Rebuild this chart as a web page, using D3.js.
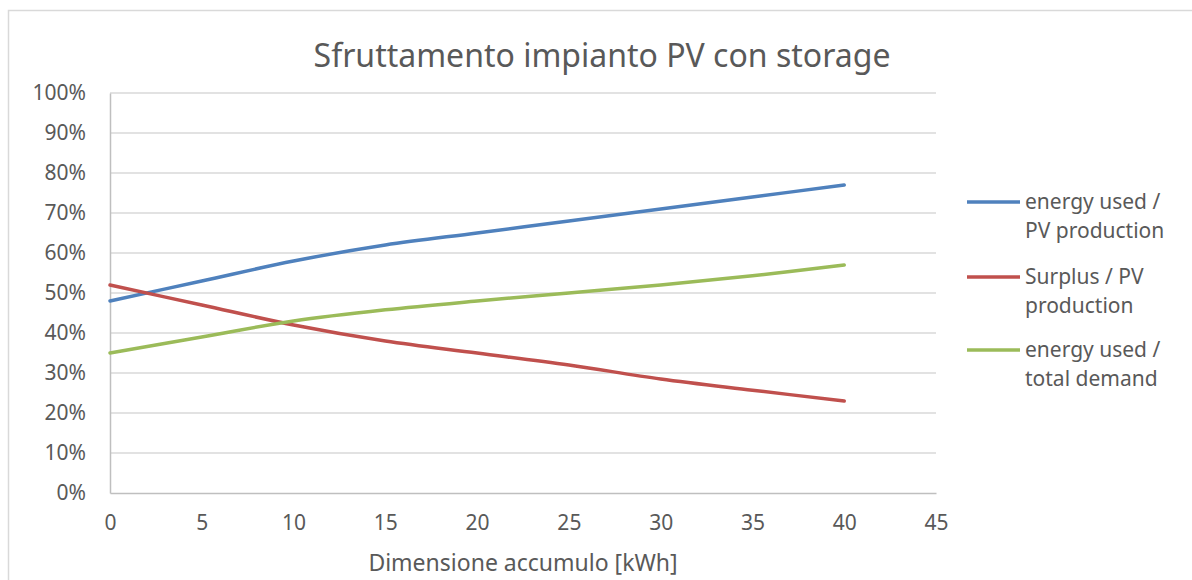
<!DOCTYPE html>
<html>
<head>
<meta charset="utf-8">
<script src="https://cdn.jsdelivr.net/npm/d3@7"></script>
<style>
  body { margin: 0; background: #fff; }
  text { font-family: "Noto Sans", "Open Sans", sans-serif; fill: #595959; }
</style>
</head>
<body>
<div id="chart"></div>
<script>
// storage size in kWh
const storageKwh = [0, 5, 10, 15, 20, 25, 30, 35, 40];
// shares in percent
const usedOverPv = [48, 53, 58, 62, 65, 68, 71, 74, 77];
const surplusOverPv = [52, 47, 42, 38, 35, 32, 28.5, 25.7, 23];
const usedOverDemand = [35, 39, 43, 45.8, 48, 50, 52, 54.3, 57];

const seriesNames = [
    ['energy used /', 'PV production'],
    ['Surplus / PV', 'production'],
    ['energy used /', 'total demand']
];
const seriesColors = ['#4F81BD', '#C0504D', '#9BBB59'];
const xTicks = [0, 5, 10, 15, 20, 25, 30, 35, 40, 45];
const yTicks = [0, 10, 20, 30, 40, 50, 60, 70, 80, 90, 100];

const width = 1192;
const height = 580;
const plot = { left: 110, right: 936, top: 93, bottom: 493 };

const svg = d3.select('#chart')
    .append('svg')
    .attr('width', width)
    .attr('height', height);

// chart frame
svg.append('rect')
    .attr('x', 8.5)
    .attr('y', 10.5)
    .attr('width', 1200)
    .attr('height', 600)
    .attr('fill', '#fff')
    .attr('stroke', '#d9d9d9')
    .attr('stroke-width', 1.5);

const x = d3.scaleLinear().domain([0, 45]).range([plot.left, plot.right]);
const y = d3.scaleLinear().domain([0, 100]).range([plot.bottom, plot.top]);

// horizontal gridlines
svg.append('g')
    .selectAll('line')
    .data(yTicks.filter(d => d > 0))
    .join('line')
    .attr('x1', plot.left)
    .attr('x2', plot.right)
    .attr('y1', d => y(d))
    .attr('y2', d => y(d))
    .attr('stroke', '#d9d9d9')
    .attr('stroke-width', 1.5);

// axes
const yAxis = svg.append('g')
    .attr('transform', `translate(${plot.left},0)`)
    .call(d3.axisLeft(y).tickValues(yTicks).tickSize(0).tickPadding(24).tickFormat(d => d + '%'));
const xAxis = svg.append('g')
    .attr('transform', `translate(0,${plot.bottom})`)
    .call(d3.axisBottom(x).tickValues(xTicks).tickSize(0).tickPadding(22));

[xAxis, yAxis].forEach(a => {
    a.select('.domain').attr('stroke', '#bfbfbf').attr('stroke-width', 1.5);
    a.selectAll('text').style('font-size', '21px').attr('fill', '#595959')
        .style('font-family', '"Noto Sans", sans-serif');
});

// lines
const allSeries = [usedOverPv, surplusOverPv, usedOverDemand];
const line = d3.line()
    .x((d, i) => x(storageKwh[i]))
    .y(d => y(d))
    .curve(d3.curveCatmullRom.alpha(0.5));

svg.append('g')
    .selectAll('path')
    .data(allSeries)
    .join('path')
    .attr('d', d => line(d))
    .attr('fill', 'none')
    .attr('stroke', (d, i) => seriesColors[i])
    .attr('stroke-width', 3.5)
    .attr('stroke-linecap', 'round');

// title
svg.append('text')
    .attr('x', 602)
    .attr('y', 67)
    .attr('text-anchor', 'middle')
    .style('font-size', '32px')
    .text('Sfruttamento impianto PV con storage');

// x axis title
svg.append('text')
    .attr('x', (plot.left + plot.right) / 2)
    .attr('y', 571)
    .attr('text-anchor', 'middle')
    .style('font-size', '23px')
    .text('Dimensione accumulo [kWh]');

// legend
const legendY = [202, 277, 350];
const legend = svg.append('g')
    .selectAll('g')
    .data(seriesNames)
    .join('g')
    .attr('transform', (d, i) => `translate(967,${legendY[i]})`);

legend.append('line')
    .attr('x1', 0)
    .attr('x2', 53)
    .attr('stroke', (d, i) => seriesColors[i])
    .attr('stroke-width', 3.5);

legend.append('text')
    .attr('x', 58)
    .attr('y', 7)
    .style('font-size', '21px')
    .selectAll('tspan')
    .data(d => d)
    .join('tspan')
    .attr('x', 58)
    .attr('dy', (d, i) => i === 0 ? 0 : 29)
    .text(d => d);
</script>
</body>
</html>
